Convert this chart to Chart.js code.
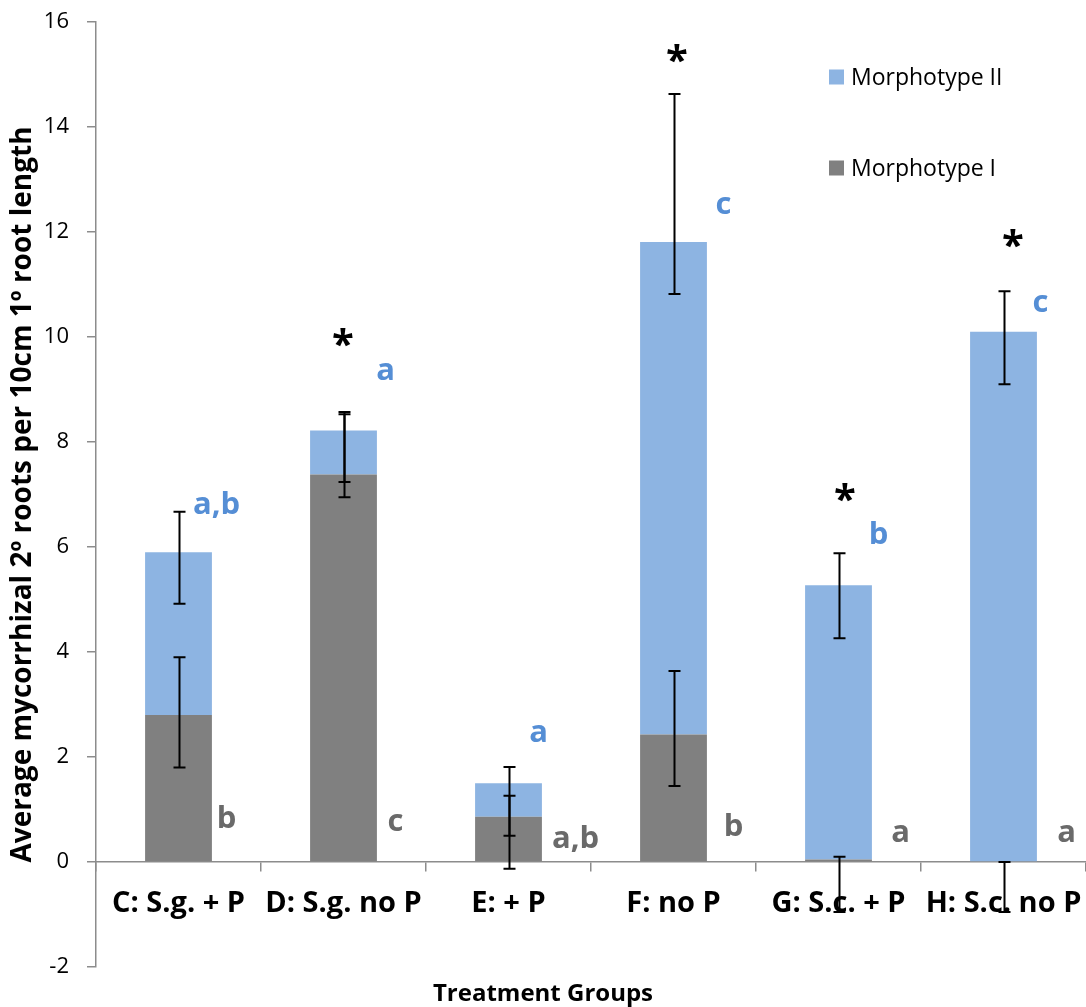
<!DOCTYPE html>
<html>
<head>
<meta charset="utf-8">
<script src="https://cdn.jsdelivr.net/npm/chart.js@4.4.0/dist/chart.umd.min.js"></script>
<style>
  html, body { margin: 0; padding: 0; background: #fff; }
  #wrap { width: 1086px; height: 1007px; }
</style>
</head>
<body>
<div id="wrap"><canvas id="chart"></canvas></div>
<script>
// Data
var categories = ['C: S.g. + P', 'D: S.g. no P', 'E: + P', 'F: no P', 'G: S.c. + P', 'H: S.c. no P'];
var morphI = [2.8, 7.38, 0.86, 2.43, 0.05, 0];
var morphII = [3.1, 0.84, 0.64, 9.38, 5.22, 10.1];

// error bar ends, in axis units
var errILow = [1.8, 6.95, -0.13, 1.45, -0.95, -0.95];
var errIHigh = [3.9, 8.53, 1.26, 3.64, 0.1, 0];
var errIILow = [4.92, 7.24, 0.5, 10.82, 4.26, 9.1];
var errIIHigh = [6.67, 8.57, 1.81, 14.63, 5.88, 10.87];

// significance letters and stars
var lettersII = ['a,b', 'a', 'a', 'c', 'b', 'c'];
var lettersI = ['b', 'c', 'a,b', 'b', 'a', 'a'];
var stars = ['', '*', '', '*', '*', '*'];

var yMin = -2, yMax = 16, yStep = 2;

var FONT = '"Open Sans", Lato, sans-serif';
var BLUE = '#8DB4E2';
var GREY = '#808080';
var AXIS = '#8C8C8C';

// where the letters sit: [x offset from bar centre in px, baseline value]
var posII = [[38, 6.63], [42, 9.18], [30, 2.29], [50, 12.34], [40, 6.06], [37, 10.48]];
var posI = [[48, 0.65], [52, 0.6], [67, 0.27], [60, 0.5], [62, 0.38], [63, 0.38]];
var posStar = [null, [-0.5, 9.94], null, [3.5, 15.35], [6.5, 6.99], [9.5, 11.83]];

var errorBars = {
    id: 'errorBars',
    afterDatasetsDraw: function (chart) {
        var x = chart.scales.x, y = chart.scales.y, ctx = chart.ctx;
        var sets = [[errILow, errIHigh], [errIILow, errIIHigh]];
        ctx.save();
        ctx.strokeStyle = '#000';
        ctx.lineWidth = 2;
        sets.forEach(function (s) {
            for (var i = 0; i < categories.length; i++) {
                var px = Math.round(x.getPixelForValue(i)) + 0.5;
                var y1 = y.getPixelForValue(s[0][i]);
                var y2 = y.getPixelForValue(s[1][i]);
                ctx.beginPath();
                ctx.moveTo(px, y1); ctx.lineTo(px, y2);
                ctx.moveTo(px - 6, y1); ctx.lineTo(px + 6, y1);
                ctx.moveTo(px - 6, y2); ctx.lineTo(px + 6, y2);
                ctx.stroke();
            }
        });
        ctx.restore();
    }
};

var annotations = {
    id: 'annotations',
    afterDraw: function (chart) {
        var x = chart.scales.x, y = chart.scales.y, ctx = chart.ctx;
        ctx.save();
        ctx.textAlign = 'center';
        ctx.textBaseline = 'alphabetic';
        for (var i = 0; i < categories.length; i++) {
            var cx = x.getPixelForValue(i);
            ctx.font = 'bold 31px ' + FONT;
            ctx.fillStyle = '#558ED5';
            ctx.fillText(lettersII[i], cx + posII[i][0], y.getPixelForValue(posII[i][1]));
            ctx.fillStyle = '#6A6A6A';
            ctx.fillText(lettersI[i], cx + posI[i][0], y.getPixelForValue(posI[i][1]));
            if (stars[i] && posStar[i]) {
                ctx.fillStyle = '#000';
                ctx.font = 'bold 40px ' + FONT;
                ctx.fillText(stars[i], cx + posStar[i][0], y.getPixelForValue(posStar[i][1]) + 18);
            }
        }

        // legend, stacked the way the reference shows it
        var items = [['Morphotype II', BLUE, 77], ['Morphotype I', GREY, 168]];
        ctx.textAlign = 'left';
        ctx.textBaseline = 'middle';
        ctx.font = '23px ' + FONT;
        items.forEach(function (it) {
            ctx.fillStyle = it[1];
            ctx.fillRect(829, it[2] - 7.5, 15, 15);
            ctx.fillStyle = '#000';
            ctx.fillText(it[0], 851, it[2] + 1);
        });
        ctx.restore();
    }
};

var ctx = document.getElementById('chart').getContext('2d');
var myChart = new Chart(ctx, {
    type: 'bar',
    data: {
        labels: categories,
        datasets: [{
            label: 'Morphotype I',
            data: morphI,
            backgroundColor: GREY,
            borderWidth: 0,
            barPercentage: 0.405,
            categoryPercentage: 1
        }, {
            label: 'Morphotype II',
            data: morphII,
            backgroundColor: BLUE,
            borderWidth: 0,
            barPercentage: 0.405,
            categoryPercentage: 1
        }]
    },
    options: {
        responsive: true,
        maintainAspectRatio: false,
        animation: false,
        layout: { padding: { top: 22, right: 0, left: 0, bottom: 0 } },
        scales: {
            x: {
                stacked: true,
                position: { y: 0 },
                grid: { offset: true, drawOnChartArea: false, tickLength: 9, color: AXIS, lineWidth: 1.5 },
                border: { color: AXIS, width: 1.5 },
                ticks: { color: '#000', padding: 15, font: { family: FONT, size: 29, weight: 'bold' } },
                afterFit: function (scale) {
                    scale.paddingLeft = 0;
                    scale.paddingRight = 0;
                }
            },
            y: {
                stacked: true,
                min: yMin,
                max: yMax,
                ticks: { stepSize: yStep, color: '#000', padding: 18, font: { family: FONT, size: 22 } },
                grid: { drawOnChartArea: false, tickLength: 9, color: AXIS, lineWidth: 1.5 },
                border: { color: AXIS, width: 1.5 },
                title: {
                    display: true,
                    text: 'Average mycorrhizal 2º roots per 10cm 1º root length',
                    color: '#000',
                    padding: { top: 8, bottom: 0 },
                    font: { family: FONT, size: 28, weight: 'bold', lineHeight: 1.1 }
                },
                afterFit: function (scale) {
                    scale.width = 96;
                    scale.paddingTop = 0;
                    scale.paddingBottom = 0;
                }
            }
        },
        plugins: {
            legend: { display: false },
            tooltip: { enabled: false },
            title: {
                display: true,
                position: 'bottom',
                text: 'Treatment Groups',
                color: '#000',
                padding: { top: 13.6, bottom: 0 },
                font: { family: FONT, size: 24, weight: 'bold', lineHeight: 1.1 }
            }
        }
    },
    plugins: [errorBars, annotations]
});
</script>
</body>
</html>
